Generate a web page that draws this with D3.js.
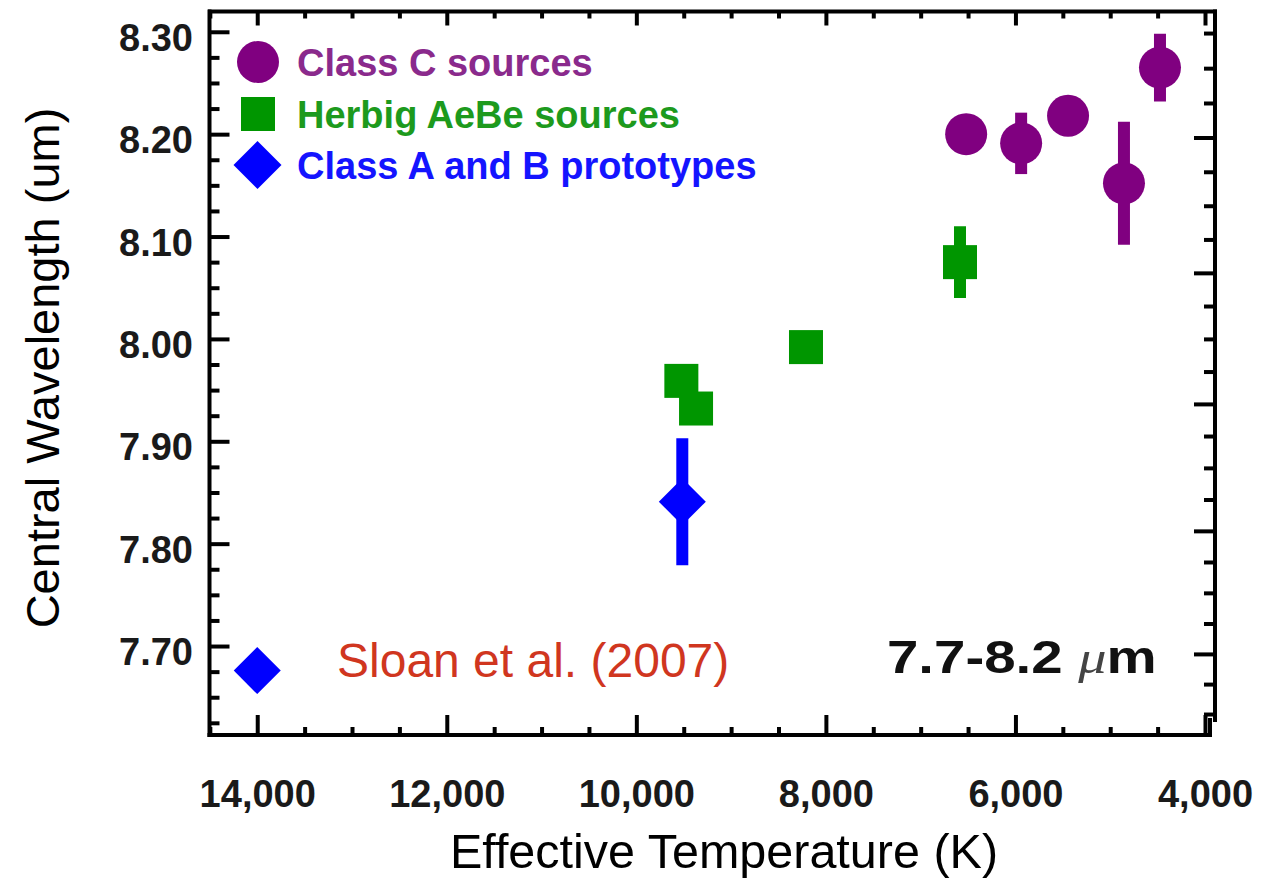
<!DOCTYPE html>
<html>
<head>
<meta charset="utf-8">
<script src="https://cdn.jsdelivr.net/npm/d3@7"></script>
<style>
  html, body { margin: 0; padding: 0; background: #ffffff; }
  svg { display: block; }
</style>
</head>
<body>
<svg id="chart" width="1277" height="879"></svg>
<script>
// Class C sources: effective temperature (K), central wavelength (um), half error (um)
const classCTemp = [6520, 5940, 5445, 4855, 4475];
const classCWave = [8.200, 8.191, 8.218, 8.152, 8.265];
const classCErr  = [0, 0.030, 0, 0.060, 0.033];

// Herbig AeBe sources
const herbigTemp = [6585, 9525, 9370, 8210];
const herbigWave = [8.075, 7.959, 7.932, 7.992];
const herbigErr  = [0.035, 0, 0, 0];

// Class A and B prototypes
const protoTemp = [9515];
const protoWave = [7.841];
const protoErr  = [0.062];

// Reference marker beside the citation
const sloanTemp = [14000];
const sloanWave = [7.676];

// Axis ticks
const xMajorTicks = [14000, 12000, 10000, 8000, 6000, 4000];
const yMajorTicks = [8.30, 8.20, 8.10, 8.00, 7.90, 7.80, 7.70];
const wavenumberMajorTicks = [1220, 1240, 1260, 1280, 1300];   // cm^-1, right axis

const legendLabels = ["Class C sources", "Herbig AeBe sources", "Class A and B prototypes"];

const COLORS = { classC: "#800080", herbig: "#009600", proto: "#0000ff" };
const TEXT_COLORS = { classC: "#8a2a8c", herbig: "#1d9a1d", proto: "#1414ff" };

const svg = d3.select("#chart");

// Plot box edges
const boxLeft = 209.5, boxRight = 1215, boxTop = 11.5, boxBottom = 722, axisY = 735;

const x = d3.scaleLinear().domain([14530, 3905]).range([207, 1214]);
const y = d3.scaleLinear().domain([7.6258, 8.3203]).range([boxBottom, 11]);
// wavenumber axis: y is linear in 1/nu (= wavelength / 1e4)
const yWn = d3.scalePow().exponent(-1)
  .domain([1e4 / 8.3203, 1e4 / 7.6258]).range([11, boxBottom]);

const xMinor = d3.range(4000, 14501, 500).filter(v => !xMajorTicks.includes(v));
const yMinor = d3.range(0, 28).map(i => +(7.625 + i * 0.025).toFixed(3))
  .filter(v => !yMajorTicks.some(m => Math.abs(m - v) < 1e-6));
const wnMinor = d3.range(1205, 1311, 5).filter(v => !wavenumberMajorTicks.includes(v));

const FONT_BOLD = "'Liberation Sans', Arial, Helvetica, sans-serif";

function styleAxis(g) {
  g.select(".domain").remove();
  g.selectAll(".tick line").attr("stroke", "#000").attr("stroke-width", 4);
  g.selectAll(".tick text")
    .attr("fill", "#1a1a1a")
    .style("font-family", FONT_BOLD)
    .style("font-weight", "bold");
}

// Bottom axis
svg.append("g").attr("transform", `translate(0,${axisY})`)
  .call(d3.axisBottom(x).tickValues(xMinor).tickSize(-8).tickSizeOuter(0).tickFormat(""))
  .call(styleAxis);
const gxb = svg.append("g").attr("transform", `translate(0,${axisY})`)
  .call(d3.axisBottom(x).tickValues(xMajorTicks).tickSize(-20).tickSizeOuter(0)
    .tickPadding(45).tickFormat(d3.format(",")))
  .call(styleAxis);
gxb.selectAll(".tick text").style("font-size", "38px");

// Top axis (ticks only)
svg.append("g").attr("transform", `translate(0,${boxTop})`)
  .call(d3.axisTop(x).tickValues(xMinor).tickSize(-7).tickSizeOuter(0).tickFormat(""))
  .call(styleAxis);
svg.append("g").attr("transform", `translate(0,${boxTop})`)
  .call(d3.axisTop(x).tickValues(xMajorTicks).tickSize(-14).tickSizeOuter(0).tickFormat(""))
  .call(styleAxis);

// Left axis
svg.append("g").attr("transform", `translate(${boxLeft},0)`)
  .call(d3.axisLeft(y).tickValues(yMinor).tickSize(-10).tickSizeOuter(0).tickFormat(""))
  .call(styleAxis);
const gyl = svg.append("g").attr("transform", `translate(${boxLeft},0)`)
  .call(d3.axisLeft(y).tickValues(yMajorTicks).tickSize(-20).tickSizeOuter(0)
    .tickPadding(16.5).tickFormat(d3.format(".2f")))
  .call(styleAxis);
gyl.selectAll(".tick text").style("font-size", "38px").attr("dy", "0.49em");

// Right axis (wavenumber, unlabeled)
svg.append("g").attr("transform", `translate(${boxRight},0)`)
  .call(d3.axisRight(yWn).tickValues(wnMinor).tickSize(-11).tickSizeOuter(0).tickFormat(""))
  .call(styleAxis);
svg.append("g").attr("transform", `translate(${boxRight},0)`)
  .call(d3.axisRight(yWn).tickValues(wavenumberMajorTicks).tickSize(-21).tickSizeOuter(0).tickFormat(""))
  .call(styleAxis);

// Frame lines
const frame = svg.append("g").attr("stroke", "#000").attr("stroke-width", 4).attr("fill", "none");
frame.append("line").attr("x1", boxLeft - 1.5).attr("x2", boxRight + 2).attr("y1", boxTop).attr("y2", boxTop);
frame.append("line").attr("x1", boxLeft).attr("x2", boxLeft).attr("y1", boxTop - 2).attr("y2", axisY + 2);
frame.append("line").attr("x1", boxRight).attr("x2", boxRight).attr("y1", boxTop - 2).attr("y2", boxBottom);
frame.append("line").attr("x1", boxLeft - 2).attr("x2", 1212).attr("y1", axisY).attr("y2", axisY);
frame.append("line").attr("x1", 1210).attr("x2", 1210).attr("y1", boxBottom - 4).attr("y2", axisY + 2);

// Marker drawing helpers
const R = 21, SQ = 34, DIA = 23.5;
function errorBars(temps, waves, errs, color) {
  svg.append("g").selectAll("line")
    .data(temps.map((t, i) => ({ t, w: waves[i], e: errs[i] })).filter(d => d.e > 0))
    .join("line")
    .attr("x1", d => x(d.t)).attr("x2", d => x(d.t))
    .attr("y1", d => y(d.w + d.e)).attr("y2", d => y(d.w - d.e))
    .attr("stroke", color).attr("stroke-width", 12);
}
const diamondPath = (cx, cy, h) => `M${cx},${cy - h}L${cx + h},${cy}L${cx},${cy + h}L${cx - h},${cy}Z`;

// Class C
errorBars(classCTemp, classCWave, classCErr, COLORS.classC);
svg.append("g").selectAll("circle")
  .data(classCTemp.map((t, i) => ({ t, w: classCWave[i] })))
  .join("circle")
  .attr("cx", d => x(d.t)).attr("cy", d => y(d.w)).attr("r", R)
  .attr("fill", COLORS.classC);

// Herbig AeBe
errorBars(herbigTemp, herbigWave, herbigErr, COLORS.herbig);
svg.append("g").selectAll("rect")
  .data(herbigTemp.map((t, i) => ({ t, w: herbigWave[i] })))
  .join("rect")
  .attr("x", d => x(d.t) - SQ / 2).attr("y", d => y(d.w) - SQ / 2)
  .attr("width", SQ).attr("height", SQ)
  .attr("fill", COLORS.herbig);

// Class A and B prototypes
errorBars(protoTemp, protoWave, protoErr, COLORS.proto);
svg.append("g").selectAll("path")
  .data(protoTemp.map((t, i) => ({ t, w: protoWave[i] })))
  .join("path")
  .attr("d", d => diamondPath(x(d.t), y(d.w), DIA))
  .attr("fill", COLORS.proto);

// Citation marker
svg.append("g").selectAll("path")
  .data(sloanTemp.map((t, i) => ({ t, w: sloanWave[i] })))
  .join("path")
  .attr("d", d => diamondPath(x(d.t), y(d.w), DIA))
  .attr("fill", COLORS.proto);

svg.append("text")
  .attr("x", 337).attr("y", 677)
  .attr("fill", "#d0361f")
  .style("font-family", "'Liberation Sans', Arial, Helvetica, sans-serif")
  .style("font-size", "48px")
  .text("Sloan et al. (2007)");

// Legend
const legendKeys = ["classC", "herbig", "proto"];
const legendY = [62, 114, 165];
const legend = svg.append("g");
legend.append("circle").attr("cx", 258).attr("cy", legendY[0]).attr("r", R).attr("fill", COLORS.classC);
legend.append("rect").attr("x", 258 - SQ / 2).attr("y", legendY[1] - SQ / 2)
  .attr("width", SQ).attr("height", SQ).attr("fill", COLORS.herbig);
legend.append("path").attr("d", diamondPath(257.5, legendY[2], DIA + 0.5)).attr("fill", COLORS.proto);
legend.selectAll("text")
  .data(legendLabels)
  .join("text")
  .attr("x", 297)
  .attr("y", (d, i) => legendY[i] + 13.5)
  .attr("fill", (d, i) => TEXT_COLORS[legendKeys[i]])
  .style("font-family", FONT_BOLD)
  .style("font-weight", "bold")
  .style("font-size", "38px")
  .text(d => d);

// Band label
const band = svg.append("g").attr("transform", "translate(887,673) scale(1.2,1)");
const bandText = band.append("text")
  .attr("fill", "#111")
  .style("font-family", FONT_BOLD)
  .style("font-weight", "bold")
  .style("font-size", "47px");
bandText.append("tspan").text("7.7-8.2 ");
bandText.append("tspan")
  .style("font-family", "'Liberation Serif', 'Times New Roman', serif")
  .style("font-style", "italic")
  .style("font-weight", "normal")
  .attr("fill", "#444")
  .text("\u03bc");
bandText.append("tspan").text("m");

// Axis titles
svg.append("text")
  .attr("transform", "translate(59,368) rotate(-90)")
  .attr("text-anchor", "middle")
  .attr("fill", "#000")
  .style("font-family", "'Liberation Sans', Arial, Helvetica, sans-serif")
  .style("font-size", "47px")
  .text("Central Wavelength (um)");

svg.append("text")
  .attr("x", 724).attr("y", 868)
  .attr("text-anchor", "middle")
  .attr("fill", "#000")
  .style("font-family", "'Liberation Sans', Arial, Helvetica, sans-serif")
  .style("font-size", "48.5px")
  .text("Effective Temperature (K)");
</script>
</body>
</html>
